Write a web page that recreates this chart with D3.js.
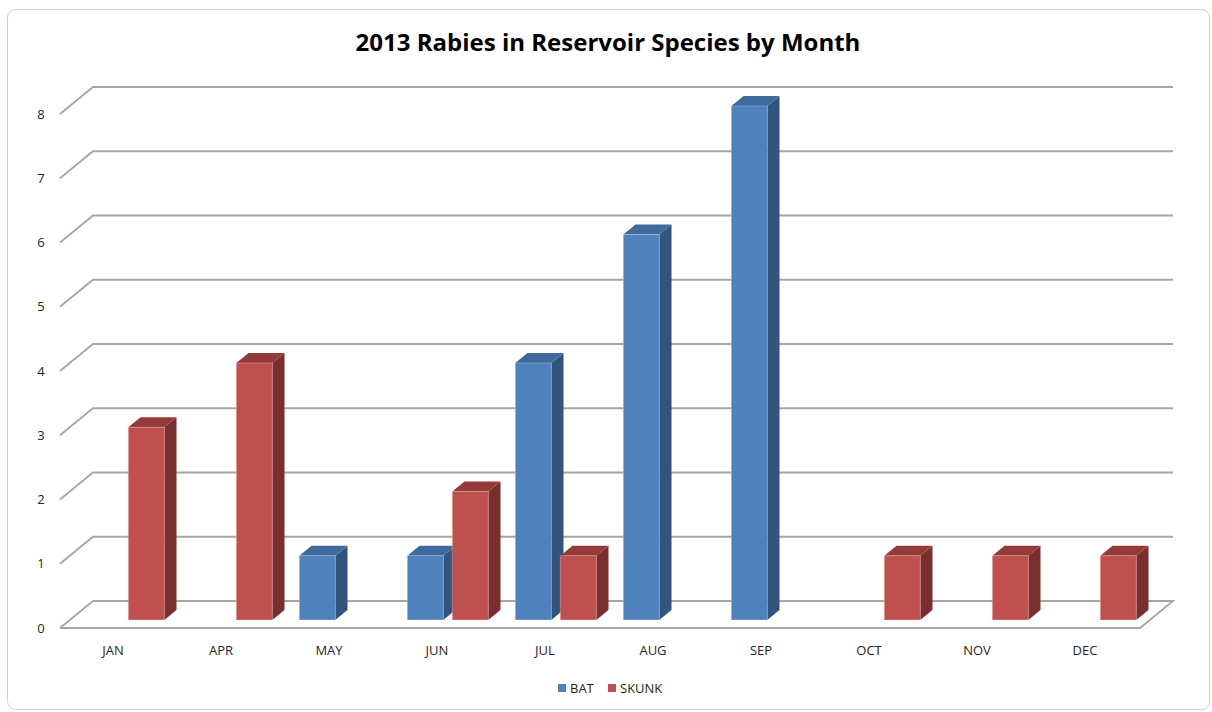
<!DOCTYPE html>
<html>
<head>
<meta charset="utf-8">
<script src="https://cdn.jsdelivr.net/npm/d3@7"></script>
<style>
    body { margin: 0; background: #fff; }
    text { font-family: "Open Sans", "Liberation Sans", sans-serif; fill: #262626; }
</style>
</head>
<body>
<div id="chart"></div>
<script>
const MONTHS = ["JAN", "APR", "MAY", "JUN", "JUL", "AUG", "SEP", "OCT", "NOV", "DEC"];
const BAT = [0, 0, 1, 1, 4, 6, 8, 0, 0, 0];
const SKUNK = [3, 4, 0, 2, 1, 0, 0, 1, 1, 1];
const SERIES = ["BAT", "SKUNK"];
const Y_TICKS = [0, 1, 2, 3, 4, 5, 6, 7, 8];

const WIDTH = 1212, HEIGHT = 712;
const GRID_COLOR = "#a6a6a6";
const COLORS = {
    BAT: {front: "#4f81bd", top: "#3f6a9c", side: "#31557f"},
    SKUNK: {front: "#c0504d", top: "#943b39", side: "#7a2f2e"}
};

// depth of the 3d box and where the bars sit in it
const DEPTH = {dx: 33, dy: -27};
const BAR_FRONT = 8 / 27, BAR_BACK = 18 / 27;

const svg = d3.select("#chart")
    .append("svg")
    .attr("width", WIDTH)
    .attr("height", HEIGHT);

// chart area frame
svg.append("rect")
    .attr("x", 7.5).attr("y", 9.5)
    .attr("width", 1202).attr("height", 700)
    .attr("rx", 8)
    .attr("fill", "#fff")
    .attr("stroke", "#cfcfcf");

// --------------------------- scales ---------------------------
const x = d3.scaleBand().domain(MONTHS).range([60, 1140]);
const xSeries = d3.scaleBand().domain(SERIES)
    .range([13.5, x.bandwidth() - 13.5])
    .paddingInner(0.2);
const y = d3.scaleLinear().domain([0, 8]).range([628, 114]);

// --------------------------- grid ---------------------------
const grid = svg.append("g")
    .attr("fill", "none")
    .attr("stroke", GRID_COLOR)
    .attr("stroke-width", 1.8);

grid.selectAll("path.grid")
    .data(Y_TICKS)
    .enter()
    .append("path")
    .attr("class", "grid")
    .attr("d", v => {
        const x0 = x.range()[0], x1 = x.range()[1];
        let d = `M${x0},${y(v)}L${x0 + DEPTH.dx},${y(v) + DEPTH.dy}L${x1 + DEPTH.dx},${y(v) + DEPTH.dy}`;
        if (v === 0) d += `L${x1},${y(v)}L${x0},${y(v)}`;
        return d;
    });

// --------------------------- y labels ---------------------------
svg.append("g")
    .selectAll("text")
    .data(Y_TICKS)
    .enter()
    .append("text")
    .attr("x", 41)
    .attr("y", d => y(d))
    .attr("dy", "0.35em")
    .attr("text-anchor", "middle")
    .style("font-size", "13px")
    .text(d => d);

// --------------------------- bars ---------------------------
const bars = [];
MONTHS.forEach((m, i) => {
    bars.push({month: m, series: "BAT", value: BAT[i]});
    bars.push({month: m, series: "SKUNK", value: SKUNK[i]});
});

const fx = BAR_FRONT * DEPTH.dx, fy = BAR_FRONT * DEPTH.dy;
const bx = (BAR_BACK - BAR_FRONT) * DEPTH.dx, by = (BAR_BACK - BAR_FRONT) * DEPTH.dy;

const barG = svg.append("g")
    .selectAll("g")
    .data(bars.filter(d => d.value > 0))
    .enter()
    .append("g");

function geom(d) {
    const x0 = x(d.month) + xSeries(d.series) + fx;
    const x1 = x0 + xSeries.bandwidth();
    const y0 = y(0) + fy;
    const y1 = y(d.value) + fy;
    return {x0, x1, y0, y1};
}

barG.append("path")
    .attr("d", d => {
        const g = geom(d);
        return `M${g.x1},${g.y0}L${g.x1 + bx},${g.y0 + by}L${g.x1 + bx},${g.y1 + by}L${g.x1},${g.y1}Z`;
    })
    .attr("fill", d => COLORS[d.series].side);

barG.append("path")
    .attr("d", d => {
        const g = geom(d);
        return `M${g.x0},${g.y1}L${g.x0 + bx},${g.y1 + by}L${g.x1 + bx},${g.y1 + by}L${g.x1},${g.y1}Z`;
    })
    .attr("fill", d => COLORS[d.series].top);

barG.append("rect")
    .attr("x", d => geom(d).x0)
    .attr("y", d => geom(d).y1)
    .attr("width", xSeries.bandwidth())
    .attr("height", d => geom(d).y0 - geom(d).y1)
    .attr("fill", d => COLORS[d.series].front)
    .attr("stroke", "rgba(255,255,255,0.25)")
    .attr("stroke-width", 1);

// --------------------------- x labels ---------------------------
svg.append("g")
    .selectAll("text")
    .data(MONTHS)
    .enter()
    .append("text")
    .attr("x", d => x(d) + x.bandwidth() / 2 - 1)
    .attr("y", 650)
    .attr("dy", "0.35em")
    .attr("text-anchor", "middle")
    .style("font-size", "13px")
    .text(d => d);

// --------------------------- title ---------------------------
svg.append("text")
    .attr("x", 608)
    .attr("y", 43)
    .attr("dy", "0.35em")
    .attr("text-anchor", "middle")
    .attr("font-weight", 700)
    .style("font-size", "24px")
    .style("fill", "#000")
    .text("2013 Rabies in Reservoir Species by Month");

// --------------------------- legend ---------------------------
const legend = svg.append("g").attr("transform", "translate(558,688)");
const legendX = {BAT: 0, SKUNK: 50};
const items = legend.selectAll("g")
    .data(SERIES)
    .enter()
    .append("g")
    .attr("transform", d => `translate(${legendX[d]},0)`);
items.append("rect")
    .attr("x", 0).attr("y", -4)
    .attr("width", 8).attr("height", 8)
    .attr("fill", d => COLORS[d].front);
items.append("text")
    .attr("x", 12)
    .attr("dy", "0.35em")
    .style("font-size", "13px")
    .text(d => d);
</script>
</body>
</html>
